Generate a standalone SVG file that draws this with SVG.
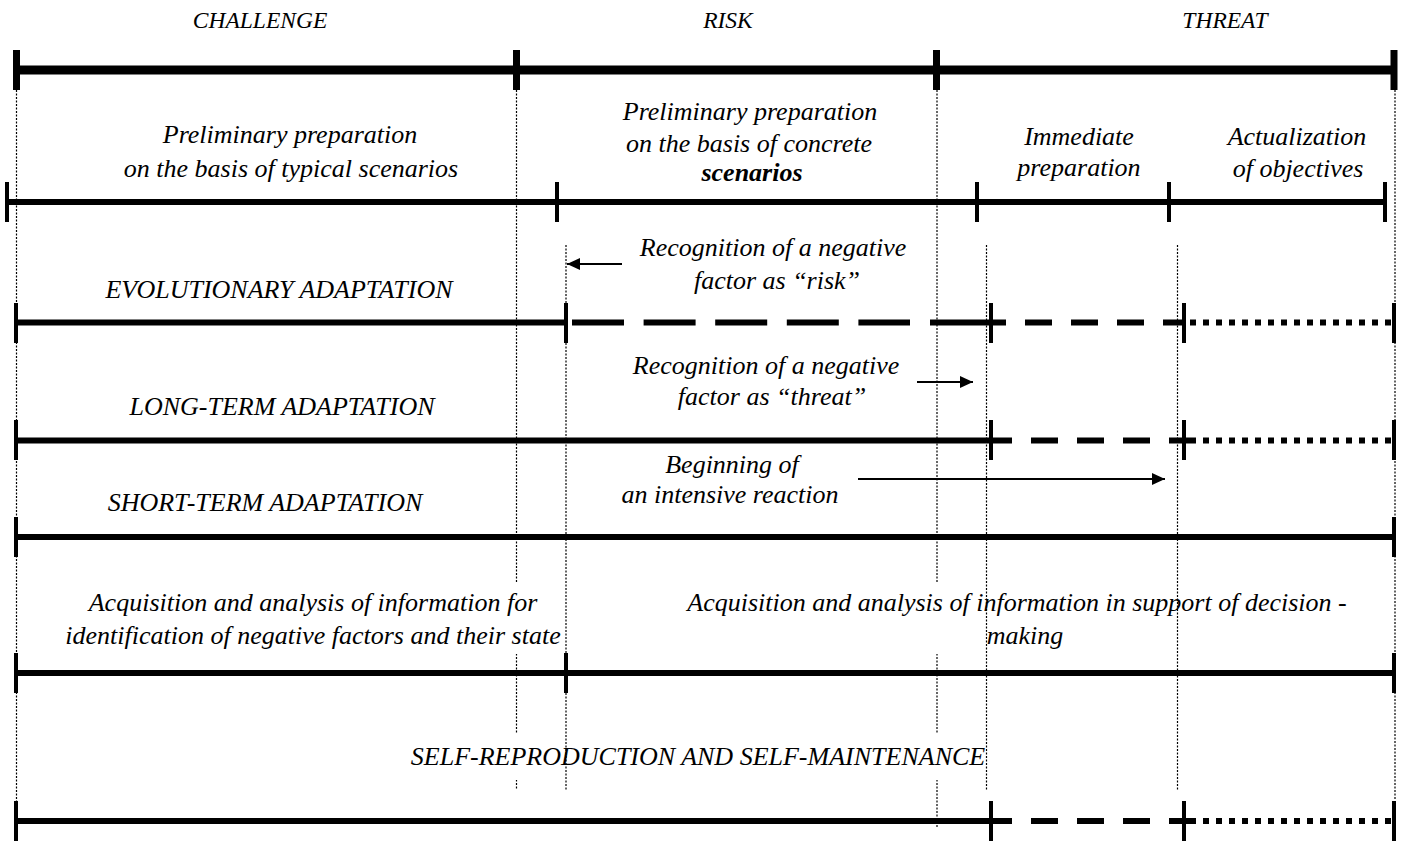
<svg xmlns="http://www.w3.org/2000/svg" width="1402" height="841" viewBox="0 0 1402 841">
<style>
text{font-family:'Liberation Serif','Times New Roman',serif;font-style:italic;font-size:26px;fill:#000;text-anchor:middle}
text.hd{font-size:23.5px}
.bar{stroke:#000;fill:none}
.top{stroke-width:9}
.tt{stroke-width:7}
.b{stroke-width:6}
.tk{stroke-width:4}
.ld{stroke-dasharray:52 19.6}
.sd{stroke-dasharray:27 19}
.dt{stroke-dasharray:6 7}
.v{stroke:#000;stroke-width:1.2;stroke-dasharray:2 1.5;fill:none}
.mask{fill:#fff;stroke:none}
.arr{stroke:#000;stroke-width:2;fill:none}
</style>
<defs>
<marker id="ah" viewBox="0 0 13 12" refX="13" refY="6" markerWidth="13" markerHeight="12" markerUnits="userSpaceOnUse" orient="auto">
<path d="M0,0 L13,6 L0,12 Z" fill="#000"/>
</marker>
</defs>
<g id="guides-main">
<line class="v" x1="16.5" y1="90" x2="16.5" y2="830"/>
<line class="v" x1="516.5" y1="90" x2="516.5" y2="790"/>
<line class="v" x1="937" y1="90" x2="937" y2="828"/>
<line class="v" x1="1395" y1="90" x2="1395" y2="800"/>
</g>
<g id="text-backgrounds">
<rect class="mask" x="60" y="582" width="505" height="72"/>
<rect class="mask" x="686" y="582" width="664" height="72"/>
<rect class="mask" x="405" y="734" width="580" height="46"/>
</g>
<g id="guides-phase">
<line class="v" x1="566" y1="245" x2="566" y2="790"/>
<line class="v" x1="986.5" y1="245" x2="986.5" y2="790"/>
<line class="v" x1="1177.5" y1="245" x2="1177.5" y2="790"/>
</g>
<g id="headers">
<text class="hd" x="260" y="28">CHALLENGE</text>
<text class="hd" x="728" y="28">RISK</text>
<text class="hd" x="1225" y="28">THREAT</text>
</g>
<g id="bar-top">
<line class="bar top" x1="16" y1="70" x2="1394" y2="70"/>
<line class="bar tt" x1="16.5" y1="50" x2="16.5" y2="90"/>
<line class="bar tt" x1="516.5" y1="50" x2="516.5" y2="90"/>
<line class="bar tt" x1="936.5" y1="50" x2="936.5" y2="90"/>
<line class="bar tt" x1="1394" y1="50" x2="1394" y2="90"/>
</g>
<g id="phases">
<text x="290" y="143">Preliminary preparation</text>
<text x="291" y="177">on the basis of typical scenarios</text>
<text x="750" y="120">Preliminary preparation</text>
<text x="749" y="152">on the basis of concrete</text>
<text x="752" y="181" font-weight="bold">scenarios</text>
<text x="1079" y="145">Immediate</text>
<text x="1079" y="176">preparation</text>
<text x="1297" y="145">Actualization</text>
<text x="1298" y="177">of objectives</text>
</g>
<g id="bar-phases">
<line class="bar b" x1="7" y1="202" x2="1385" y2="202"/>
<line class="bar tk" x1="7" y1="182" x2="7" y2="222"/>
<line class="bar tk" x1="557" y1="182" x2="557" y2="222"/>
<line class="bar tk" x1="977" y1="182" x2="977" y2="222"/>
<line class="bar tk" x1="1169" y1="182" x2="1169" y2="222"/>
<line class="bar tk" x1="1385" y1="182" x2="1385" y2="222"/>
</g>
<g id="evolutionary">
<text x="279" y="298">EVOLUTIONARY ADAPTATION</text>
<text x="773" y="256">Recognition of a negative</text>
<text x="777" y="289">factor as “risk”</text>
</g>
<g id="long-term">
<text x="282" y="415">LONG-TERM ADAPTATION</text>
<text x="766" y="374">Recognition of a negative</text>
<text x="772" y="405">factor as “threat”</text>
</g>
<g id="short-term">
<text x="265" y="511">SHORT-TERM ADAPTATION</text>
<text x="732" y="473">Beginning of</text>
<text x="730" y="503">an intensive reaction</text>
</g>
<g id="information">
<text x="313" y="611">Acquisition and analysis of information for</text>
<text x="313" y="644">identification of negative factors and their state</text>
<text x="1017" y="611">Acquisition and analysis of information in support of decision -</text>
<text x="1025" y="644">making</text>
</g>
<g id="self">
<text x="698" y="765">SELF-REPRODUCTION AND SELF-MAINTENANCE</text>
</g>
<g id="connectors">
<line class="bar b" x1="16" y1="322.5" x2="566" y2="322.5"/>
<line class="bar b ld" x1="572" y1="322.5" x2="910" y2="322.5"/>
<line class="bar b" x1="930" y1="322.5" x2="1006" y2="322.5"/>
<line class="bar b sd" x1="1025" y1="322.5" x2="1184" y2="322.5"/>
<line class="bar b dt" x1="1190" y1="322.5" x2="1394" y2="322.5"/>
<line class="bar tk" x1="16" y1="303" x2="16" y2="343"/>
<line class="bar tk" x1="566" y1="303" x2="566" y2="343"/>
<line class="bar tk" x1="991" y1="303" x2="991" y2="343"/>
<line class="bar tk" x1="1184" y1="303" x2="1184" y2="343"/>
<line class="bar tk" x1="1394" y1="303" x2="1394" y2="343"/>
<line class="bar b" x1="16" y1="440.5" x2="1012" y2="440.5"/>
<line class="bar b sd" x1="1031" y1="440.5" x2="1197" y2="440.5"/>
<line class="bar b dt" x1="1203" y1="440.5" x2="1394" y2="440.5"/>
<line class="bar tk" x1="16" y1="420" x2="16" y2="460"/>
<line class="bar tk" x1="991" y1="420" x2="991" y2="460"/>
<line class="bar tk" x1="1184" y1="420" x2="1184" y2="460"/>
<line class="bar tk" x1="1394" y1="420" x2="1394" y2="460"/>
<line class="bar b" x1="16" y1="537" x2="1394" y2="537"/>
<line class="bar tk" x1="16" y1="517" x2="16" y2="557"/>
<line class="bar tk" x1="1394" y1="517" x2="1394" y2="557"/>
<line class="bar b" x1="16" y1="673" x2="1394" y2="673"/>
<line class="bar tk" x1="16" y1="653" x2="16" y2="693"/>
<line class="bar tk" x1="566" y1="653" x2="566" y2="693"/>
<line class="bar tk" x1="1394" y1="653" x2="1394" y2="693"/>
<line class="bar b" x1="16" y1="821" x2="1012" y2="821"/>
<line class="bar b sd" x1="1031" y1="821" x2="1197" y2="821"/>
<line class="bar b dt" x1="1203" y1="821" x2="1394" y2="821"/>
<line class="bar tk" x1="16" y1="801" x2="16" y2="841"/>
<line class="bar tk" x1="991" y1="801" x2="991" y2="841"/>
<line class="bar tk" x1="1184" y1="801" x2="1184" y2="841"/>
<line class="bar tk" x1="1394" y1="801" x2="1394" y2="841"/>
<line class="arr" x1="622" y1="264" x2="567" y2="264" marker-end="url(#ah)"/>
<line class="arr" x1="917" y1="382" x2="973" y2="382" marker-end="url(#ah)"/>
<line class="arr" x1="858" y1="479" x2="1165" y2="479" marker-end="url(#ah)"/>
</g>
</svg>
